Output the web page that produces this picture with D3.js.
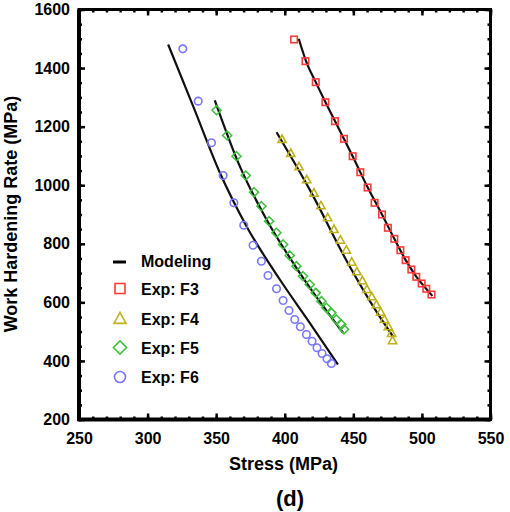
<!DOCTYPE html>
<html><head><meta charset="utf-8">
<script src="https://cdn.jsdelivr.net/npm/d3@7"></script>
<style>body{margin:0;background:#fff}</style>
</head><body>
<svg id="c" width="510" height="512"></svg>
<script>
// ---- data ----
const xTickVals=[250,300,350,400,450,500,550];
const yTickVals=[200,400,600,800,1000,1200,1400,1600];
const xTitle="Stress (MPa)";
const yTitle="Work Hardening Rate (MPa)";
const panelLabel="(d)";
const legendLabels=["Modeling","Exp: F3","Exp: F4","Exp: F5","Exp: F6"];

const f3Stress=[406.8,415.1,422.6,429.6,436.6,443.2,449.5,455.1,460.4,465.5,470.9,475.2,479.9,484.3,488.1,492.3,495.9,499.8,503.2,507.0];
const f3Rate  =[1497.6,1423.5,1351.8,1283.5,1218.6,1158.5,1099.1,1044.4,992.2,939.9,900,854.6,817,778.1,744,712.2,687.3,664.4,646.3,626.8];
const f4Stress=[398.0,404.4,410.4,416.0,421.3,426.4,431.3,435.9,440.6,444.9,448.8,452.6,456.6,459.9,463.4,466.8,469.9,472.6,475.5,477.9,478.6];
const f4Rate  =[1156.1,1108.3,1062.9,1018.5,972.7,929.7,888.7,848.8,812.3,778.1,737.1,704.3,673.6,643.9,619.0,591.7,566.4,541.5,516.5,493.7,469];
const f5Stress=[350.3,358.0,364.8,371.6,377.6,383.0,388.6,393.9,398.8,403.6,408.5,413.3,418.2,422.6,426.7,430.4,434.0,437.6,441.3,443.2];
const f5Rate  =[1256,1169.8,1099.1,1033.2,976.1,928.3,877.1,837.5,797.6,760.0,723.5,689.3,661.0,632.6,604.0,581.4,564.3,541.5,524.4,508];
const f6Stress=[325.7,336.9,346.6,355.1,362.9,370.1,376.9,383.0,387.8,394.0,398.8,403.1,407.3,411.4,415.8,419.9,423.5,427.2,430.8,434.0];
const f6Rate  =[1465.7,1287,1144.8,1033.2,939.9,863.5,795.2,740.5,691.7,646.3,606.3,572.2,541.5,516.5,490.2,467.4,444.8,425.4,407.3,391.2];

const m3Stress=[410.2,415.5,422.6,429.6,436.6,443.2,449.5,460.4,470.9,480.0,488.1,495.9,503.2,507.6];
const m3Rate  =[1500,1424,1352,1284,1219,1158,1099,993,900,816,745,688,646,622];
const m4Stress=[394.0,418.2,447.3,465.0,478.9];
const m4Rate  =[1181,985,723,582,484];
const m5Stress=[349.0,367.2,386.7,410.9,442.5];
const m5Rate  =[1290,1065,883,701,496];
const m6Stress=[315.0,333.2,352.7,372.1,396.4,418.2,438.8];
const m6Rate  =[1480.5,1269.8,1042.4,860,678,530.2,387.8];

// ---- drawing ----
const svg=d3.select("#c");
const L=79,R=490.5,T=9.5,B=419.5;
const x=d3.scaleLinear().domain([250,550]).range([L,R]);
const y=d3.scaleLinear().domain([200,1600]).range([B,T]);
const font="'Liberation Sans',Arial,sans-serif";

const xMinor=d3.range(250,551,10), yMinor=d3.range(200,1601,50);

function styleAxis(g){g.select(".domain").remove();g.selectAll(".tick line").attr("stroke","#000").attr("stroke-width",2.5);}
// bottom
svg.append("g").attr("transform",`translate(0,${B})`).call(d3.axisBottom(x).tickValues(xMinor).tickSize(-3).tickFormat("")).call(styleAxis);
svg.append("g").attr("transform",`translate(0,${B})`).call(d3.axisBottom(x).tickValues(xTickVals).tickSize(-6).tickFormat(d3.format("d")).tickPadding(13)).call(styleAxis)
  .selectAll("text").attr("font-family",font).attr("font-weight","bold").attr("font-size",16).attr("fill","#000");
// top
svg.append("g").attr("transform",`translate(0,${T})`).call(d3.axisTop(x).tickValues(xMinor).tickSize(-3).tickFormat("")).call(styleAxis);
svg.append("g").attr("transform",`translate(0,${T})`).call(d3.axisTop(x).tickValues(xTickVals).tickSize(-6).tickFormat("")).call(styleAxis);
// left
svg.append("g").attr("transform",`translate(${L},0)`).call(d3.axisLeft(y).tickValues(yMinor).tickSize(-3).tickFormat("")).call(styleAxis);
svg.append("g").attr("transform",`translate(${L},0)`).call(d3.axisLeft(y).tickValues(yTickVals).tickSize(-6).tickFormat(d3.format("d")).tickPadding(9)).call(styleAxis)
  .selectAll("text").attr("font-family",font).attr("font-weight","bold").attr("font-size",16).attr("fill","#000");
// right
svg.append("g").attr("transform",`translate(${R},0)`).call(d3.axisRight(y).tickValues(yMinor).tickSize(-3).tickFormat("")).call(styleAxis);
svg.append("g").attr("transform",`translate(${R},0)`).call(d3.axisRight(y).tickValues(yTickVals).tickSize(-6).tickFormat("")).call(styleAxis);
// frame
svg.append("rect").attr("x",L).attr("y",T).attr("width",R-L).attr("height",B-T)
  .attr("fill","none").attr("stroke","#000").attr("stroke-width",3);
svg.append("line").attr("x1",L).attr("x2",L).attr("y1",T).attr("y2",B+1.5).attr("stroke","#000").attr("stroke-width",4);
svg.append("line").attr("x1",L-1.5).attr("x2",R).attr("y1",B).attr("y2",B).attr("stroke","#000").attr("stroke-width",4);

// model lines
const line=d3.line().x(d=>x(d[0])).y(d=>y(d[1])).curve(d3.curveMonotoneX);
[[m3Stress,m3Rate],[m4Stress,m4Rate],[m5Stress,m5Rate],[m6Stress,m6Rate]].forEach(([s,r])=>{
  svg.append("path").attr("d",line(s.map((v,i)=>[v,r[i]]))).attr("fill","none").attr("stroke","#111").attr("stroke-width",2.2);
});

// markers
const colors={sq:"#ff3a3a",tri:"#bfb21c",dia:"#3fc03f",cir:"#7777ff"};
function marker(g,type,cx,cy,s){
  if(type==="sq") return g.append("rect").attr("x",cx-s/2).attr("y",cy-s/2).attr("width",s).attr("height",s).attr("fill","none").attr("stroke",colors.sq).attr("stroke-width",1.6);
  if(type==="cir") return g.append("circle").attr("cx",cx).attr("cy",cy).attr("r",s/2).attr("fill","none").attr("stroke",colors.cir).attr("stroke-width",1.6);
  if(type==="tri") return g.append("path").attr("d",`M${cx},${cy-s*0.6}L${cx+s*0.55},${cy+s*0.4}L${cx-s*0.55},${cy+s*0.4}Z`).attr("fill","none").attr("stroke",colors.tri).attr("stroke-width",1.6);
  if(type==="dia") return g.append("path").attr("d",`M${cx},${cy-s*0.6}L${cx+s*0.6},${cy}L${cx},${cy+s*0.6}L${cx-s*0.6},${cy}Z`).attr("fill","none").attr("stroke",colors.dia).attr("stroke-width",1.6);
}
const series=[["cir",f6Stress,f6Rate,7.5],["dia",f5Stress,f5Rate,7.5],["tri",f4Stress,f4Rate,7.5],["sq",f3Stress,f3Rate,6.5]];
series.forEach(([t,s,r,sz])=>{
  const g=svg.append("g");
  s.forEach((v,i)=>marker(g,t,x(v),y(r[i]),sz));
});

// legend
const lg=svg.append("g");
const rowsY=[261,288.5,319,347.5,377];
lg.append("line").attr("x1",113).attr("x2",126).attr("y1",rowsY[0]+1).attr("y2",rowsY[0]+1).attr("stroke","#000").attr("stroke-width",3);
["sq","tri","dia","cir"].forEach((t,i)=>marker(lg,t,120,rowsY[i+1],t==="sq"?10:11));
legendLabels.forEach((lab,i)=>{
  lg.append("text").attr("x",141).attr("y",rowsY[i]+6).text(lab)
    .attr("font-family",font).attr("font-weight","bold").attr("font-size",16).attr("fill","#000");
});

// titles
svg.append("text").attr("x",283.5).attr("y",470).attr("text-anchor","middle").text(xTitle)
  .attr("font-family",font).attr("font-weight","bold").attr("font-size",18).attr("fill","#000");
svg.append("text").attr("transform","translate(17,214) rotate(-90)").attr("text-anchor","middle").text(yTitle)
  .attr("font-family",font).attr("font-weight","bold").attr("font-size",18).attr("fill","#000");
svg.append("text").attr("x",290).attr("y",506).attr("text-anchor","middle").text(panelLabel)
  .attr("font-family",font).attr("font-weight","bold").attr("font-size",22).attr("fill","#000");
</script>
</body></html>
